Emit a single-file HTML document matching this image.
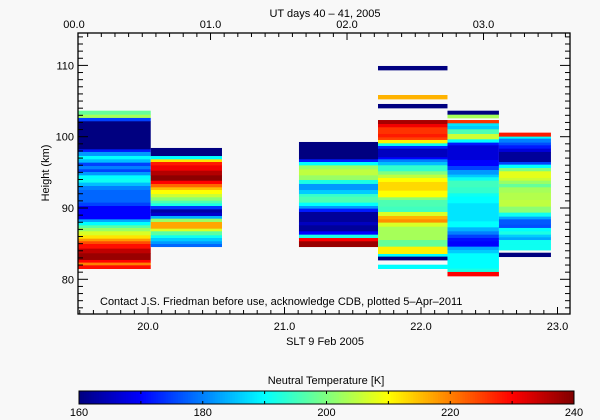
<!DOCTYPE html>
<html><head><meta charset="utf-8"><style>
html,body{margin:0;padding:0;background:#f8f8f8;}
svg{display:block;font-family:"Liberation Sans",sans-serif;}
text{fill:#000;font-size:11px;}
</style></head><body>
<svg id="chart" width="600" height="420" viewBox="0 0 600 420" xmlns="http://www.w3.org/2000/svg">
<rect width="600" height="420" fill="#f8f8f8"/>
<g id="cells"></g>
<g id="axes"></g>
<g id="cbar"></g>
<text x="325" y="17" text-anchor="middle">UT days 40 – 41, 2005</text>
<text x="325" y="345" text-anchor="middle">SLT 9 Feb 2005</text>
<text x="0" y="0" transform="translate(49,173) rotate(-90)" text-anchor="middle">Height (km)</text>
<text x="100" y="305">Contact J.S. Friedman before use, acknowledge CDB, plotted 5–Apr–2011</text>
<text x="326" y="384" text-anchor="middle" font-size="12">Neutral Temperature [K]</text>
</svg>
<script>
// ---- data ----
const colStart = [19.487, 20.02, 21.106, 21.685, 22.194, 22.571];
const colEnd   = [20.02, 20.542, 21.685, 22.194, 22.571, 22.952];
// band edges (km, top to bottom) and temperatures (K) per column; null = no data
const col1Edges = [103.65,103.09,102.63,102.16,98.23,97.86,97.3,96.83,96.36,95.89,95.43,95.05,94.58,94.12,93.56,93.09,92.53,90.75,90.28,88.41,88.04,87.57,87.2,86.73,86.17,85.7,85.33,84.95,84.3,83.65,82.71,82.34,81.96,81.5];
const col1Temps = [198,203,175,160,172,182,190,185,175,180,175,182,190,191,185,180,178,175,170,183,190,197,202,207,212,218,224,229,235,238,230,220,229];
const col2Edges = [98.42,97.29,96.83,96.45,95.98,95.24,94.58,93.83,93.37,92.9,92.52,91.96,91.5,91.03,90.65,90.28,89.81,89.35,88.88,88.5,88.04,87.1,86.73,86.17,85.79,85.33,84.95,84.58];
const col2Temps = [160,190,212,228,231,236,239,230,222,215,210,206,201,196,192,174,163,166,184,202,217,207,197,191,186,182,178];
const col3Edges = [99.26,96.83,96.45,95.98,95.42,94.58,93.93,93.37,92.52,91.96,91.59,90.75,90.28,89.91,89.44,88.04,87.57,86.73,86.26,85.79,85.33,84.58];
const col3Temps = [160,172,190,202,205,202,192,182,186,194,196,190,182,172,162,165,162,170,192,230,238];
const col4Edges = [109.92,109.36,105.85,105.29,104.59,104.03,102.34,101.78,101.32,100.38,99.91,99.54,99.07,98.7,98.32,97.11,96.83,96.45,95.99,95.15,94.68,94.21,93.65,92.43,91.5,91.12,90.19,89.44,88.88,88.41,87.95,87.38,85.51,84.58,83.55,83.18,82.71,82.05,81.5];
const col4Temps = [160,null,216,null,160,null,237,231,226,228,225,211,191,173,165,170,180,185,194,200,205,210,213,210,201,196,195,207,216,219,207,203,198,211,190,160,null,190];
const col5Edges = [103.65,103.09,102.63,102.34,101.88,101.5,101.04,100.38,99.63,99.17,98.79,96.73,95.89,95.33,94.68,94.31,93.84,92.9,92.06,91.59,90.66,88.13,87.29,86.73,86.26,85.8,85.33,84.58,84.11,83.65,82.8,81.5,81.03,80.47];
const col5Temps = [160,203,null,226,188,186,196,206,190,172,167,170,175,182,186,191,195,194,191,190,188,190,184,180,175,171,170,183,186,190,190,192,230];
const col6Edges = [100.57,100.01,99.73,99.17,98.79,98.32,97.86,96.45,96.08,95.61,95.15,94.21,93.84,93.37,92.9,92.15,91.12,90.19,89.35,88.79,88.41,87.66,87.2,86.73,86.26,85.89,85.51,84.95,84.11,83.73,83.18];
const col6Temps = [228,190,180,176,172,167,162,175,190,200,208,206,202,198,203,204,205,201,191,183,177,176,190,192,186,183,191,191,null,160];
const yTicks = [80, 90, 100, 110];
const xTicks = [20, 21, 22, 23];
const utTicks = [0, 1, 2, 3];
const cbTicks = [160, 180, 200, 220, 240];

// ---- scales ----
const X0 = 78, X1 = 570, Y0 = 33, Y1 = 314;
const xS = s => 148 + (s - 20) * 136.5;
const yS = k => 279.3 - (k - 80) * 7.13;
const utS = h => xS(h + 19.458);
const tMin = 160, tMax = 240;
function jet(t){
  let v = (t - tMin) / (tMax - tMin); v = Math.max(0, Math.min(1, v));
  const f = x => Math.max(0, Math.min(1, x));
  const r = f(Math.min(4*v - 1.5, -4*v + 4.5));
  const g = f(Math.min(4*v - 0.5, -4*v + 3.5));
  const b = f(Math.min(4*v + 0.5, -4*v + 2.5));
  return `rgb(${Math.round(r*255)},${Math.round(g*255)},${Math.round(b*255)})`;
}
const NS = 'http://www.w3.org/2000/svg';
function mk(tag, attrs, parent){ const e = document.createElementNS(NS, tag); for (const k in attrs) e.setAttribute(k, attrs[k]); parent.appendChild(e); return e; }

const cells = document.getElementById('cells');
const allEdges = [col1Edges, col2Edges, col3Edges, col4Edges, col5Edges, col6Edges];
const allTemps = [col1Temps, col2Temps, col3Temps, col4Temps, col5Temps, col6Temps];
allEdges.forEach((edges, c) => {
  const temps = allTemps[c];
  const xa = xS(colStart[c]), xb = xS(colEnd[c]);
  for (let i = 0; i < temps.length; i++){
    if (temps[i] === null) continue;
    const ya = yS(edges[i]), yb = yS(edges[i+1]);
    const r = mk('rect', {x: xa, y: ya, width: xb - xa, height: yb - ya + 0.4, fill: jet(temps[i])}, cells);
    
    
  }
});

// ---- axes ----
const ax = document.getElementById('axes');
const frame = mk('rect', {x: X0, y: Y0, width: X1 - X0, height: Y1 - Y0, fill: 'none', stroke: '#000', 'stroke-width': 1.3}, ax);


function line(x1,y1,x2,y2,p){ return mk('line',{x1,y1,x2,y2,stroke:'#000','stroke-width':1},p); }
// y minor/major ticks
for (let k = 76; k <= 114; k++){
  const y = yS(k); if (y < Y0 || y > Y1) continue;
  const L = (k % 10 === 0) ? 10 : 5;
  line(X0, y, X0 + L, y, ax); line(X1, y, X1 - L, y, ax);
}
yTicks.forEach(k => {
  const t = mk('text', {x: X0 - 4, y: yS(k) + 4, 'text-anchor': 'end'}, ax);
  t.textContent = String(k);
  
  
});
// bottom ticks
for (let s = 19.5; s <= 23.1; s += 0.1){
  const x = xS(s); if (x < X0 || x > X1) continue;
  const maj = Math.abs(s - Math.round(s)) < 0.01;
  line(x, Y1, x, Y1 - (maj ? 7 : 4), ax);
}
xTicks.forEach(s => {
  const t = mk('text', {x: xS(s), y: 330, 'text-anchor': 'middle'}, ax);
  t.textContent = s.toFixed(1);
  
  
});
// top ticks
for (let h = -0.1; h <= 3.7; h += 0.1){
  const x = utS(h); if (x < X0 || x > X1) continue;
  const maj = Math.abs(h - Math.round(h)) < 0.01;
  line(x, Y0, x, Y0 + (maj ? 7 : 4), ax);
}
utTicks.forEach(h => {
  const t = mk('text', {x: utS(h), y: 28, 'text-anchor': 'middle'}, ax);
  t.textContent = '0' + h.toFixed(1);
  
  
});

// ---- colorbar ----
const cb = document.getElementById('cbar');
const CB0 = 79, CB1 = 574, CBy = 391, CBh = 13;
for (let i = 0; i < 200; i++){
  const t = tMin + (i + 0.5) / 200 * (tMax - tMin);
  const x = CB0 + i * (CB1 - CB0) / 200;
  const r = mk('rect', {x: x, y: CBy, width: (CB1 - CB0) / 200 + 0.5, height: CBh, fill: jet(t)}, cb);
  
  
}
const cbf = mk('rect', {x: CB0, y: CBy, width: CB1 - CB0, height: CBh, fill: 'none', stroke: '#000', 'stroke-width': 1}, cb);


for (let t = tMin; t <= tMax; t += 10){
  const x = CB0 + (t - tMin) / (tMax - tMin) * (CB1 - CB0);
  line(x, CBy, x, CBy + 3, cb); line(x, CBy + CBh, x, CBy + CBh - 3, cb);
}
cbTicks.forEach(t => {
  const x = CB0 + (t - tMin) / (tMax - tMin) * (CB1 - CB0);
  const tx = mk('text', {x: x, y: 416, 'text-anchor': 'middle'}, cb);
  tx.textContent = String(t);
  
  
});
</script>
</body></html>
